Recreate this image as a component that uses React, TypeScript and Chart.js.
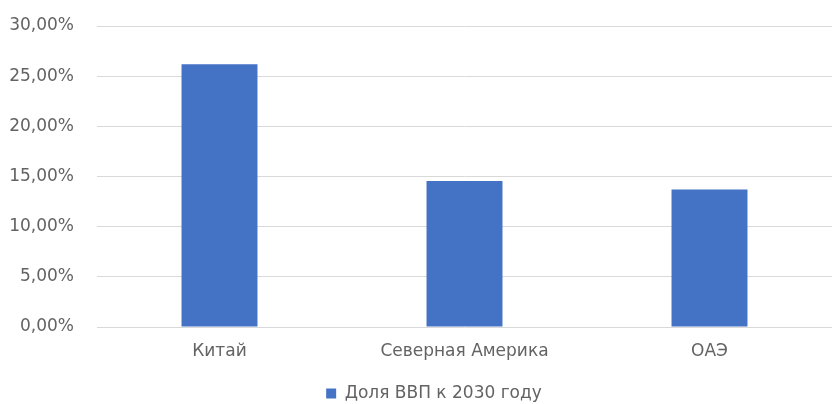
import React, { useEffect, useRef } from "react";
import { Chart, registerables } from "chart.js";

Chart.register(...registerables);

const categories = ["Китай", "Северная Америка", "ОАЭ"];
const seriesLabel = "Доля ВВП к 2030 году";
const shareValues = [26.2, 14.55, 13.7];
const yTicks = [0, 5, 10, 15, 20, 25, 30];

const fmt = (v: number) => v.toFixed(2).replace(".", ",") + "%";

const legendShift = {
  id: "legendShift",
  beforeDraw(chart: any) {
    const lg = chart.legend;
    if (lg && !lg._shifted) {
      lg.left += 18;
      lg.right += 18;
      lg.top += 8;
      lg.bottom += 8;
      lg._shifted = true;
    }
  },
};

export default function App() {
  const ref = useRef<HTMLCanvasElement>(null);
  useEffect(() => {
    document.body.style.margin = "0";
    const font = { family: "'DejaVu Sans', 'Open Sans', sans-serif", size: 17 };
    const chart = new Chart(ref.current!, {
      type: "bar",
      data: {
        labels: categories,
        datasets: [
          {
            label: seriesLabel,
            data: shareValues,
            backgroundColor: "#4472c4",
            borderColor: "#4472c4",
            borderWidth: 0,
            barPercentage: 0.31,
            categoryPercentage: 1,
          },
        ],
      },
      plugins: [legendShift],
      options: {
        animation: false,
        responsive: false,
        layout: { padding: { left: 0, right: 3, top: 26, bottom: 0 } },
        plugins: {
          tooltip: { enabled: false },
          legend: {
            position: "bottom",
            labels: {
              color: "#636363",
              font,
              boxWidth: 10,
              boxHeight: 10,
              padding: 0,
            },
          },
        },
        scales: {
          x: {
            grid: { display: false, drawTicks: false },
            border: { display: false },
            ticks: { color: "#636363", font, padding: 14 },
            afterFit: (s: any) => {
              s.height = 50;
            },
          },
          y: {
            min: 0,
            max: 30,
            afterBuildTicks: (s: any) => {
              s.ticks = yTicks.map((v) => ({ value: v }));
            },
            afterFit: (s: any) => {
              s.width = 97;
              s.paddingTop = 8;
              s.paddingBottom = 8;
            },
            grid: { color: "#d9d9d9", lineWidth: 1, drawTicks: false },
            border: { display: false },
            ticks: {
              color: "#636363",
              font,
              padding: 23,
              callback: (v: any) => fmt(Number(v)),
            },
          },
        },
      },
    });
    return () => chart.destroy();
  }, []);
  return <canvas ref={ref} width={835} height={404} style={{ display: "block" }} />;
}
